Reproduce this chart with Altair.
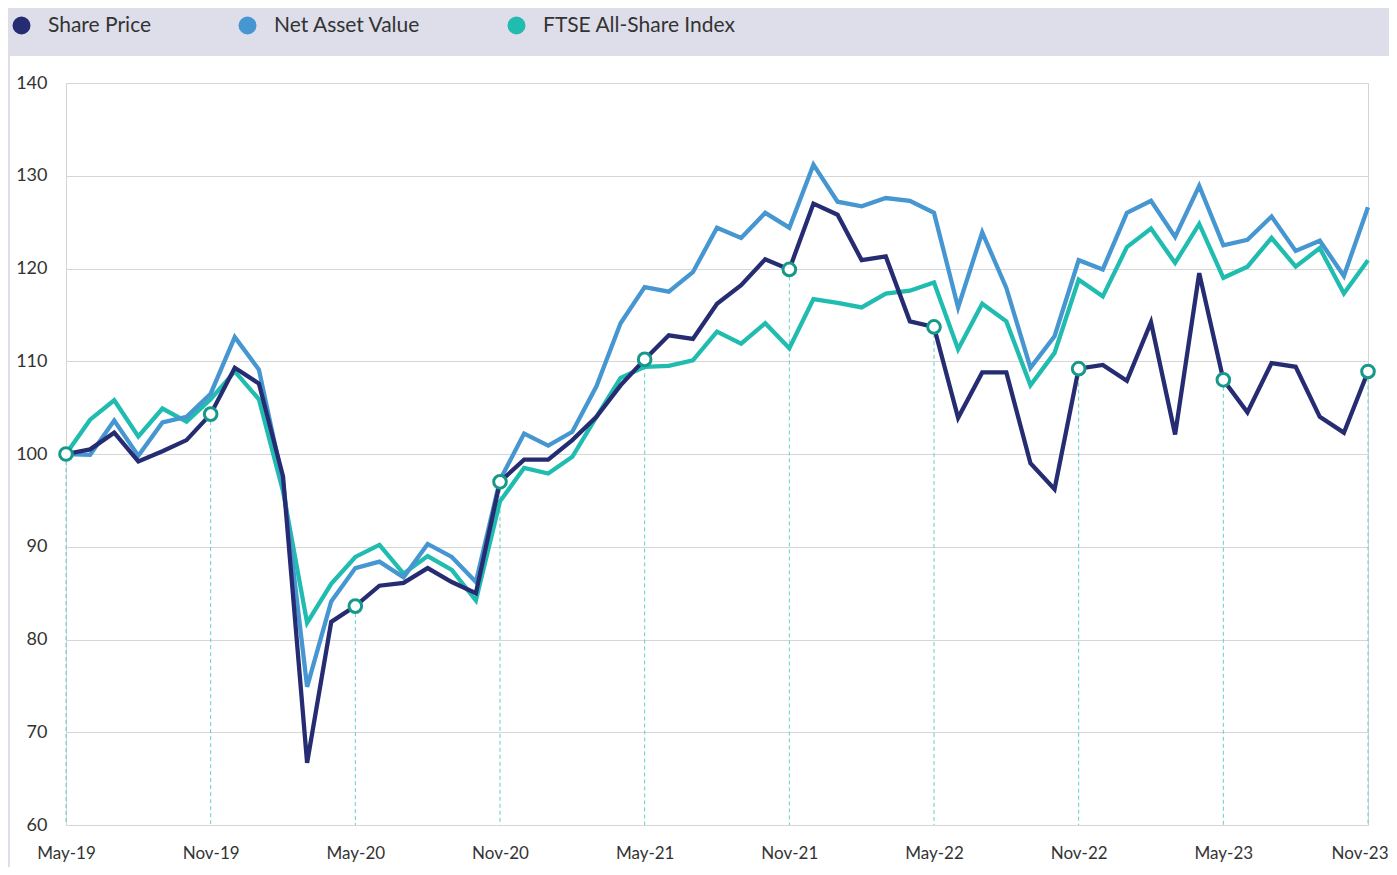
import altair as alt
import pandas as pd

MONTHS = ["Jan", "Feb", "Mar", "Apr", "May", "Jun", "Jul", "Aug", "Sep", "Oct", "Nov", "Dec"]
month_labels = [f"{MONTHS[(4 + i) % 12]}-{19 + (4 + i) // 12}" for i in range(55)]

share_price = [100.0, 100.5, 102.3, 99.2, 100.3, 101.5, 104.3, 109.3, 107.6, 97.6,
               66.7, 81.9, 83.6, 85.8, 86.1, 87.7, 86.2, 85.0, 97.0, 99.4,
               99.4, 101.5, 104.0, 107.4, 110.2, 112.8, 112.4, 116.2, 118.2, 121.0,
               119.9, 127.0, 125.8, 120.9, 121.3, 114.3, 113.7, 103.9, 108.8, 108.8,
               99.0, 96.2, 109.2, 109.6, 107.9, 114.2, 102.1, 119.5, 108.0, 104.5,
               109.8, 109.4, 104.0, 102.3, 108.9]
nav = [100.0, 99.9, 103.6, 99.8, 103.4, 104.0, 106.5, 112.6, 109.1, 97.0,
       74.9, 84.1, 87.7, 88.4, 86.7, 90.3, 88.9, 86.2, 97.2, 102.2,
       100.9, 102.4, 107.3, 114.1, 118.0, 117.5, 119.6, 124.4, 123.3, 126.0,
       124.4, 131.2, 127.2, 126.7, 127.6, 127.3, 126.0, 115.8, 123.9, 117.9,
       109.3, 112.7, 120.9, 119.9, 126.0, 127.3, 123.4, 128.9, 122.5, 123.1,
       125.6, 121.9, 123.0, 119.2, 126.6]
ftse = [100.0, 103.7, 105.8, 101.9, 104.9, 103.5, 105.9, 108.9, 105.9, 96.0,
        81.8, 86.0, 88.9, 90.2, 87.1, 89.0, 87.5, 84.2, 94.9, 98.5,
        97.9, 99.7, 104.0, 108.2, 109.4, 109.5, 110.1, 113.2, 111.9, 114.1,
        111.4, 116.7, 116.3, 115.8, 117.3, 117.6, 118.5, 111.3, 116.2, 114.3,
        107.4, 110.9, 118.8, 117.0, 122.3, 124.3, 120.6, 124.8, 119.0, 120.2,
        123.3, 120.2, 122.2, 117.3, 120.9]

series_names = ["Share Price", "Net Asset Value", "FTSE All-Share Index"]
series_colors = ["#262c72", "#4596d1", "#20bcb0"]
axis_labels = month_labels[::6]
y_ticks = [60, 70, 80, 90, 100, 110, 120, 130, 140]

FONT = "Lato"
W, H = 1302, 742
PAD = {"left": 58, "top": 75, "right": 21, "bottom": 42}

rows = []
draw_order = [2, 1, 0]
for k in draw_order:
    for m, v in zip(month_labels, [share_price, nav, ftse][k]):
        rows.append({"month": m, "value": v, "series": series_names[k]})
df = pd.DataFrame(rows)
markers = pd.DataFrame({"month": axis_labels, "value": share_price[::6]})
last_label = axis_labels[-1]

x_enc = alt.X("month:N", sort=month_labels,
              scale=alt.Scale(type="point", padding=0),
              axis=alt.Axis(values=axis_labels, labelAngle=0, ticks=False, domain=False,
                            labelPadding=20, labelFontSize=17, labelColor="#333333",
                            labelFont=FONT, grid=False,
                            labelAlign=alt.ExprRef(expr=f"datum.value == '{last_label}' ? 'right' : 'center'"),
                            labelOffset=alt.ExprRef(expr=f"datum.value == '{last_label}' ? 20 : 0")),
              title=None)
y_enc = alt.Y("value:Q", scale=alt.Scale(domain=[60, 140], nice=False, zero=False),
              axis=alt.Axis(values=y_ticks, ticks=False, domain=False, grid=True,
                            gridColor="#d6d6d6", gridWidth=1, labelPadding=19,
                            labelFontSize=18, labelColor="#333333", labelFont=FONT),
              title=None)
color_scale = alt.Scale(domain=series_names, range=series_colors)

one = pd.DataFrame({"k": [0]})
band = alt.Chart(one).mark_rect(color="#dddeea").encode(
    x=alt.value(-PAD["left"]), x2=alt.value(W + PAD["right"]),
    y=alt.value(-PAD["top"]), y2=alt.value(-27))
strip = alt.Chart(one).mark_rect(color="#dddeea").encode(
    x=alt.value(-PAD["left"]), x2=alt.value(-PAD["left"] + 2),
    y=alt.value(-PAD["top"]), y2=alt.value(H + PAD["bottom"]))

rules = alt.Chart(markers).mark_rule(color="#63cfc6", strokeDash=[4, 3], strokeWidth=1).encode(
    x=x_enc, y=y_enc, y2=alt.Y2(datum=60))

lines = alt.Chart(df).mark_line(strokeWidth=4.3).encode(
    x=x_enc, y=y_enc,
    color=alt.Color("series:N", scale=color_scale,
                    legend=alt.Legend(orient="none", legendX=-55, legendY=-68,
                                      direction="horizontal", title=None,
                                      symbolType="circle", symbolSize=81,
                                      symbolStrokeWidth=9, symbolOpacity=1,
                                      labelFontSize=21, labelColor="#333333",
                                      labelFont=FONT, labelOffset=16, labelLimit=400,
                                      columnPadding=73, padding=0)),
    detail="series:N")

pts = alt.Chart(markers).mark_point(shape="circle", filled=True, fill="white",
                                    stroke="#17998a", strokeWidth=3, size=160,
                                    opacity=1).encode(x=x_enc, y=y_enc)

chart = alt.layer(band, strip, rules, lines, pts).properties(
    width=W, height=H,
    autosize=alt.AutoSizeParams(type="none"),
    padding=PAD,
    background="white",
).configure_view(stroke="#d4d4d4", strokeWidth=1)

chart.save("out.html", embed_options={"renderer": "svg", "actions": False})
